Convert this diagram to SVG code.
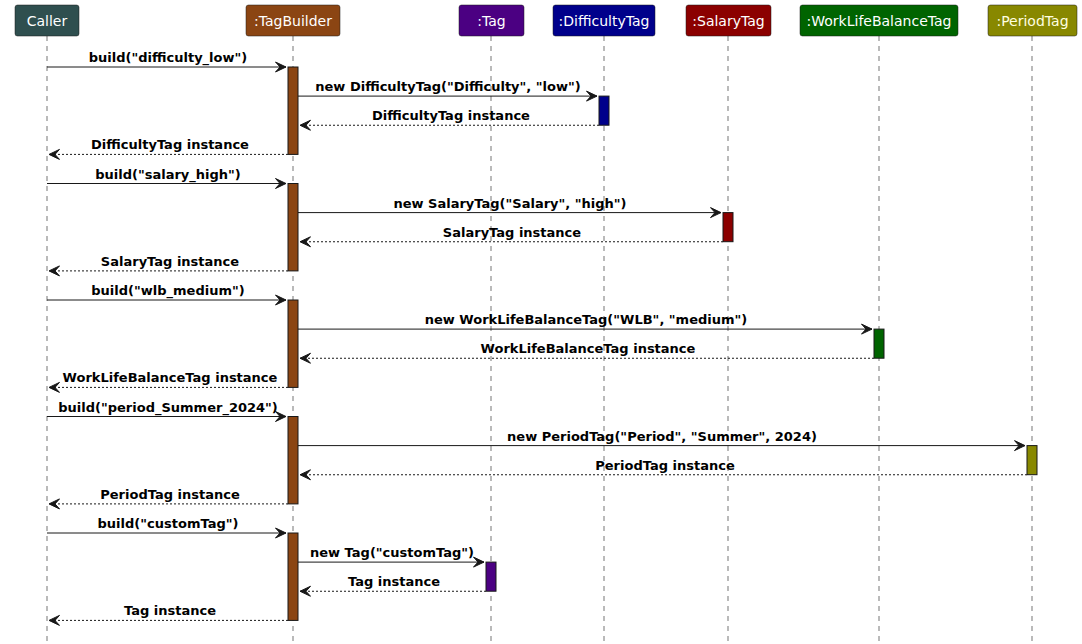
<svg xmlns="http://www.w3.org/2000/svg" width="1082" height="644" viewBox="0 0 1082 644">
<style>
.life{stroke:#181818;stroke-width:0.6;stroke-dasharray:5,5;fill:none}
.hd{stroke:#181818;stroke-width:0.5}
.ht{font-family:"DejaVu Sans",sans-serif;font-size:14px;fill:#FFFFFF;text-anchor:middle}
.act{stroke:#181818;stroke-width:1}
.msg{stroke:#181818;stroke-width:1;fill:none}
.ret{stroke:#181818;stroke-width:1;fill:none;stroke-dasharray:2,2}
.lb{font-family:"DejaVu Sans",sans-serif;font-size:13px;font-weight:bold;fill:#000000;text-anchor:middle}
</style>
<defs>
<marker id="ar" markerWidth="13" markerHeight="12" refX="11" refY="6" orient="auto" markerUnits="userSpaceOnUse">
<polygon points="0.5,1 11,6 0.5,11 5,6" fill="#181818" stroke="#181818" stroke-width="1" stroke-linejoin="miter"/>
</marker>
</defs>
<rect width="1082" height="644" fill="#FFFFFF"/>
<g id="lifelines">
<line class="life" x1="47" y1="36" x2="47" y2="644"/>
<line class="life" x1="293" y1="36" x2="293" y2="644"/>
<line class="life" x1="491" y1="36" x2="491" y2="644"/>
<line class="life" x1="604" y1="36" x2="604" y2="644"/>
<line class="life" x1="728" y1="36" x2="728" y2="644"/>
<line class="life" x1="879" y1="36" x2="879" y2="644"/>
<line class="life" x1="1032" y1="36" x2="1032" y2="644"/>
</g>
<g id="caller"><rect class="hd" x="15" y="5" width="64" height="31" rx="2.5" fill="#2F4F4F"/><text class="ht" x="47" y="25.5">Caller</text></g>
<g id="tagbuilder"><rect class="hd" x="246" y="5" width="94" height="31" rx="2.5" fill="#8B4513"/><text class="ht" x="293" y="25.5">:TagBuilder</text>
<rect class="act" x="288" y="67" width="10" height="87.4" fill="#8B4513"/>
<rect class="act" x="288" y="183.5" width="10" height="87.4" fill="#8B4513"/>
<rect class="act" x="288" y="300" width="10" height="87.4" fill="#8B4513"/>
<rect class="act" x="288" y="416.5" width="10" height="87.4" fill="#8B4513"/>
<rect class="act" x="288" y="533" width="10" height="87.4" fill="#8B4513"/>
</g>
<g id="tag"><rect class="hd" x="459" y="5" width="65" height="31" rx="2.5" fill="#4B0082"/><text class="ht" x="491.5" y="25.5">:Tag</text>
<rect class="act" x="486" y="562.1" width="10" height="29.1" fill="#4B0082"/></g>
<g id="difficultytag"><rect class="hd" x="553" y="5" width="102" height="31" rx="2.5" fill="#00008B"/><text class="ht" x="604" y="25.5">:DifficultyTag</text>
<rect class="act" x="599" y="96.1" width="10" height="29.1" fill="#00008B"/></g>
<g id="salarytag"><rect class="hd" x="686" y="5" width="85" height="31" rx="2.5" fill="#8B0000"/><text class="ht" x="728.5" y="25.5">:SalaryTag</text>
<rect class="act" x="723" y="212.6" width="10" height="29.1" fill="#8B0000"/></g>
<g id="wlbtag"><rect class="hd" x="800" y="5" width="158" height="31" rx="2.5" fill="#006400"/><text class="ht" x="879" y="25.5">:WorkLifeBalanceTag</text>
<rect class="act" x="874" y="329.1" width="10" height="29.1" fill="#006400"/></g>
<g id="periodtag"><rect class="hd" x="988" y="5" width="89" height="31" rx="2.5" fill="#888800"/><text class="ht" x="1032.5" y="25.5" style="fill:#FFFFE0">:PeriodTag</text>
<rect class="act" x="1027" y="445.6" width="10" height="29.1" fill="#888800"/></g>
<g id="connectors">
<line class="msg" x1="47" y1="67" x2="286" y2="67" marker-end="url(#ar)"/>
<text class="lb" x="168" y="62">build("difficulty_low")</text>
<line class="msg" x1="298" y1="96.1" x2="597" y2="96.1" marker-end="url(#ar)"/>
<text class="lb" x="448" y="91.1">new DifficultyTag("Difficulty", "low")</text>
<line class="ret" x1="599" y1="125.25" x2="300" y2="125.25" marker-end="url(#ar)"/>
<text class="lb" x="451" y="120.25">DifficultyTag instance</text>
<line class="ret" x1="288" y1="154.4" x2="49" y2="154.4" marker-end="url(#ar)"/>
<text class="lb" x="170" y="149.4">DifficultyTag instance</text>

<line class="msg" x1="47" y1="183.5" x2="286" y2="183.5" marker-end="url(#ar)"/>
<text class="lb" x="168" y="178.5">build("salary_high")</text>
<line class="msg" x1="298" y1="212.6" x2="721" y2="212.6" marker-end="url(#ar)"/>
<text class="lb" x="510" y="207.6">new SalaryTag("Salary", "high")</text>
<line class="ret" x1="723" y1="241.75" x2="300" y2="241.75" marker-end="url(#ar)"/>
<text class="lb" x="512" y="236.75">SalaryTag instance</text>
<line class="ret" x1="288" y1="270.9" x2="49" y2="270.9" marker-end="url(#ar)"/>
<text class="lb" x="170" y="265.9">SalaryTag instance</text>

<line class="msg" x1="47" y1="300" x2="286" y2="300" marker-end="url(#ar)"/>
<text class="lb" x="168" y="295">build("wlb_medium")</text>
<line class="msg" x1="298" y1="329.1" x2="872" y2="329.1" marker-end="url(#ar)"/>
<text class="lb" x="586" y="324.1">new WorkLifeBalanceTag("WLB", "medium")</text>
<line class="ret" x1="874" y1="358.25" x2="300" y2="358.25" marker-end="url(#ar)"/>
<text class="lb" x="588" y="353.25">WorkLifeBalanceTag instance</text>
<line class="ret" x1="288" y1="387.4" x2="49" y2="387.4" marker-end="url(#ar)"/>
<text class="lb" x="170" y="382.4">WorkLifeBalanceTag instance</text>

<line class="msg" x1="47" y1="416.5" x2="286" y2="416.5" marker-end="url(#ar)"/>
<text class="lb" x="168" y="411.5">build("period_Summer_2024")</text>
<line class="msg" x1="298" y1="445.6" x2="1025" y2="445.6" marker-end="url(#ar)"/>
<text class="lb" x="662" y="440.6">new PeriodTag("Period", "Summer", 2024)</text>
<line class="ret" x1="1027" y1="474.75" x2="300" y2="474.75" marker-end="url(#ar)"/>
<text class="lb" x="665" y="469.75">PeriodTag instance</text>
<line class="ret" x1="288" y1="503.9" x2="49" y2="503.9" marker-end="url(#ar)"/>
<text class="lb" x="170" y="498.9">PeriodTag instance</text>

<line class="msg" x1="47" y1="533" x2="286" y2="533" marker-end="url(#ar)"/>
<text class="lb" x="168" y="528">build("customTag")</text>
<line class="msg" x1="298" y1="562.1" x2="484" y2="562.1" marker-end="url(#ar)"/>
<text class="lb" x="392" y="557.1">new Tag("customTag")</text>
<line class="ret" x1="486" y1="591.25" x2="300" y2="591.25" marker-end="url(#ar)"/>
<text class="lb" x="394" y="586.25">Tag instance</text>
<line class="ret" x1="288" y1="620.4" x2="49" y2="620.4" marker-end="url(#ar)"/>
<text class="lb" x="170" y="615.4">Tag instance</text>
</g>
</svg>
